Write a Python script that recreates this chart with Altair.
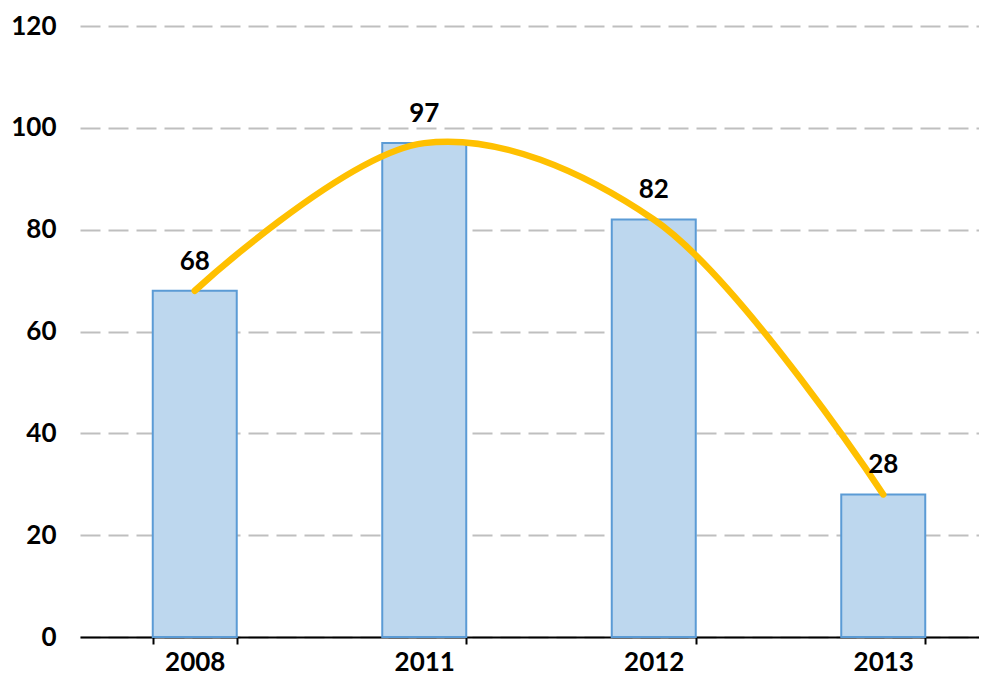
import altair as alt
import pandas as pd

years = ["2008", "2011", "2012", "2013"]
values = [68, 97, 82, 28]

df = pd.DataFrame({"year": years, "value": values})

FONT = "Lato"

x = alt.X(
    "year:N",
    sort=years,
    scale=alt.Scale(range=[0, 918], paddingInner=0.634, paddingOuter=0.317),
    axis=alt.Axis(
        title=None, labelAngle=0, labelFont=FONT, labelFontWeight="bold",
        labelFontSize=26, labelColor="#000000", labelPadding=5,
        domainColor="#000000", domainWidth=2, tickColor="#000000", tickWidth=2,
        tickSize=7, tickBand="extent", grid=False,
    ),
)
y = alt.Y(
    "value:Q",
    scale=alt.Scale(domain=[0, 120], nice=False),
    axis=alt.Axis(
        title=None, values=[0, 20, 40, 60, 80, 100, 120], domain=False, ticks=False,
        labelFont=FONT, labelFontWeight="bold", labelFontSize=26, labelColor="#000000",
        labelPadding=24, grid=True, gridColor="#BFBFBF", gridWidth=2, gridDash=[20, 8],
    ),
)

base = alt.Chart(df)
bars = base.mark_bar(color="#BDD7EE", stroke="#5B9BD5", strokeWidth=2).encode(x=x, y=y)
line = base.mark_line(color="#FFC000", strokeWidth=6.5, interpolate="catmull-rom",
                      strokeCap="round").encode(x=x, y=y)
labels = base.mark_text(font=FONT, fontWeight="bold", fontSize=26, color="#000000",
                        baseline="middle", dy=-29).encode(x=x, y=y, text="value:Q")

chart = (bars + line + labels).properties(
    width=907, height=611,
    autosize=alt.AutoSizeParams(type="none"),
    padding={"left": 72, "top": 18, "right": -8, "bottom": 41},
).configure_view(stroke=None)

chart.save("out.html", embed_options={"renderer": "svg", "actions": False})
